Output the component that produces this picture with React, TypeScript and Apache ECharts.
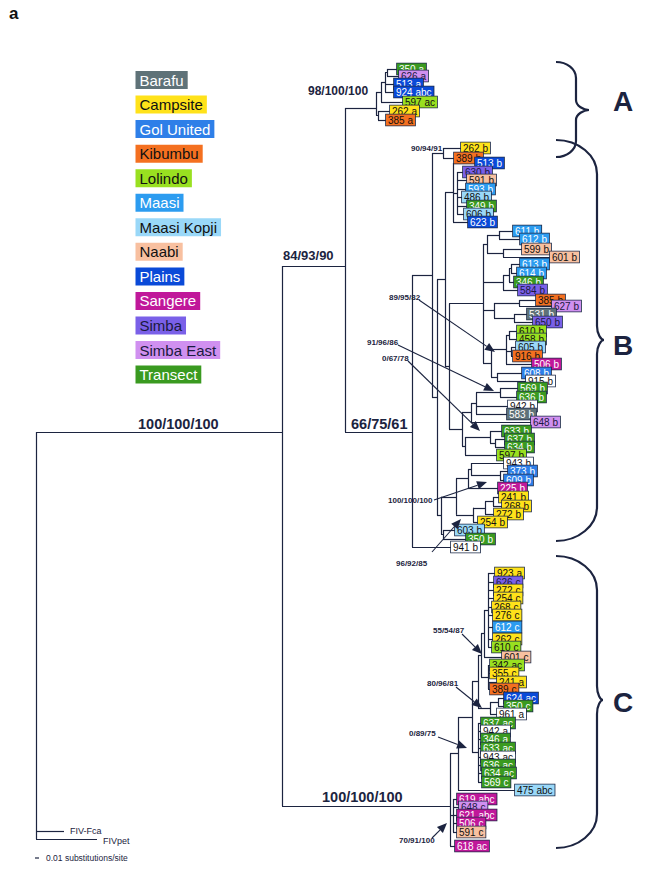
import React, { useEffect, useRef } from "react";
import * as echarts from "echarts";

// ---------- DATA ----------
const POPULATIONS = ["Barafu", "Campsite", "Gol United", "Kibumbu", "Lolindo", "Maasi", "Maasi Kopji", "Naabi", "Plains", "Sangere", "Simba", "Simba East", "Transect"];
const POP_COLORS = ["#5f7278", "#ffe21a", "#2e7fe8", "#f47020", "#99e020", "#2c9cf0", "#9ad8f8", "#f8c0a0", "#0a4ad8", "#c0189a", "#7a60e8", "#d090f0", "#3a9a20"];
const POP_TEXT = ["#ffffff", "#111111", "#ffffff", "#111111", "#111111", "#ffffff", "#111111", "#111111", "#ffffff", "#ffffff", "#1a1a40", "#1a1a40", "#ffffff"];

// leaves: [label, population index (-1 = none), tip position, row position]
const LEAVES_A: [string, number, number, number][] = [
  ["350 a", 12, 397, 69], ["626 a", 11, 399, 76], ["513 a", 8, 394, 84], ["924 abc", 8, 394, 92],
  ["597 ac", 4, 403, 102], ["262 a", 1, 390, 111], ["385 a", 3, 386, 120],
];
const LEAVES_B: [string, number, number, number][] = [
  ["262 b", 1, 461, 148], ["389 b", 3, 454, 158], ["513 b", 8, 475, 163], ["630 b", 10, 463, 172],
  ["591 b", 7, 467, 180], ["593 b", 5, 466, 189], ["486 b", 6, 462, 197], ["349 b", 12, 467, 206],
  ["606 b", 6, 464, 214], ["623 b", 8, 468, 222],
  ["611 b", 5, 513, 231], ["612 b", 5, 520, 239], ["599 b", 7, 522, 249], ["601 b", 7, 550, 257],
  ["613 b", 5, 520, 264], ["614 b", 5, 517, 273], ["346 b", 12, 514, 282], ["584 b", 10, 518, 290],
  ["385 b", 3, 536, 300], ["627 b", 11, 552, 306], ["531 b", 0, 527, 314], ["650 b", 10, 533, 322],
  ["610 b", 4, 517, 331], ["458 b", 4, 517, 339], ["605 b", 6, 516, 347], ["916 b", 3, 513, 356],
  ["506 b", 9, 532, 364], ["608 b", 2, 522, 373], ["915 b", -1, 526, 381],
  ["569 b", 12, 518, 388], ["636 b", 12, 517, 397], ["942 b", -1, 508, 406], ["583 b", 0, 507, 414], ["648 b", 11, 531, 422],
  ["633 b", 12, 502, 431], ["637 b", 12, 505, 439], ["634 b", 12, 505, 447], ["597 b", 4, 497, 455],
  ["943 b", -1, 504, 463], ["373 b", 2, 508, 471], ["609 b", 2, 504, 480], ["225 b", 9, 498, 488],
  ["241 b", 1, 499, 497], ["268 b", 1, 502, 506], ["272 b", 1, 494, 514], ["254 b", 1, 478, 522],
  ["603 b", 6, 455, 530], ["350 b", 12, 466, 539], ["941 b", -1, 451, 547],
];
const LEAVES_C: [string, number, number, number][] = [
  ["923 a", 1, 495, 573], ["626 c", 10, 494, 582], ["272 c", 1, 494, 590], ["254 c", 1, 494, 598],
  ["268 c", 1, 492, 607], ["276 c", 1, 493, 615], ["612 c", 5, 493, 627], ["262 c", 1, 493, 639],
  ["610 c", 4, 492, 647], ["601 c", 7, 502, 657],
  ["342 ac", 4, 490, 665], ["355 c", 1, 490, 673], ["241 a", 1, 497, 682], ["389 c", 3, 490, 689],
  ["624 ac", 8, 504, 698], ["350 c", 12, 504, 706], ["961 a", -1, 497, 714],
  ["637 ac", 12, 481, 723], ["942 a", -1, 481, 731], ["346 a", 12, 481, 739], ["633 ac", 12, 481, 748],
  ["943 ac", -1, 481, 757], ["636 ac", 12, 481, 765], ["634 ac", 12, 482, 773], ["569 c", 12, 482, 782],
  ["475 abc", 6, 515, 790],
  ["619 abc", 9, 457, 799], ["648 c", 11, 459, 807], ["621 abc", 9, 457, 815], ["506 c", 9, 457, 823],
  ["591 c", 7, 457, 832], ["618 ac", 9, 455, 846],
];
const OUTGROUP: [string, number, number][] = [["FIV-Fca", 64, 831], ["FIVpet", 97, 839]];

// topology: internal nodes {x, y?, c}, leaves by label
const CLADE_A = { x: 376, y: 108, c: [
  { x: 381, c: [{ x: 385, c: [{ x: 387, c: ["350 a", "626 a"] }, "513 a", "924 abc"] }, "597 ac"] },
  { x: 378, c: ["262 a", "385 a"] },
] };
const CLADE_B = { x: 412, y: 432, c: [
  { x: 432, c: [
    { x: 443, c: ["262 b", "389 b"] },
    { x: 437, c: [
      { x: 445, c: [
        { x: 453, c: ["513 b", { x: 457, c: ["630 b", "591 b", "593 b", "486 b", "349 b", "606 b"] }, "623 b"] },
        { x: 449, c: [
          { x: 483, c: [
            { x: 487, c: [{ x: 499, c: ["611 b", "612 b"] }, { x: 503, c: ["599 b", "601 b"] }] },
            { x: 503, c: [{ x: 509, c: [{ x: 511, c: ["613 b", "614 b"] }, "346 b"] }, "584 b"] },
            { x: 494, c: [{ x: 519, c: ["385 b", "627 b"] }, { x: 514, c: ["531 b", "650 b"] }] },
            { x: 491, c: [
              { x: 506, c: [{ x: 509, c: ["610 b", "458 b"] }, { x: 511, c: ["605 b", "916 b"] }, "506 b"] },
              { x: 497, c: ["608 b", "915 b"] },
            ] },
          ] },
          { x: 462, c: [
            { x: 471, c: [{ x: 476, c: [{ x: 500, c: ["569 b", "636 b"] }, "942 b", "583 b"] }, "648 b"] },
            { x: 465, c: [{ x: 490, c: ["633 b", { x: 495, c: ["637 b", "634 b"] }] }, "597 b"] },
          ] },
        ] },
      ] },
      { x: 441, c: [
        { x: 456, c: [
          { x: 468, c: [{ x: 471, c: ["943 b", { x: 500, c: ["373 b", "609 b"] }] }, "225 b"] },
          { x: 473, c: [{ x: 485, c: [{ x: 493, c: ["241 b", "268 b"] }, "272 b"] }, "254 b"] },
        ] },
        { x: 443, c: ["603 b", "350 b"] },
      ] },
    ] },
  ] },
  "941 b",
] };
const CLADE_C = { x: 450, y: 806, c: [
  { x: 458, c: [
    { x: 472, c: [
      { x: 478, c: [
        { x: 481, c: [
          { x: 484, c: [{ x: 488, c: ["923 a", "626 c", "272 c", "254 c", "268 c", "276 c", "612 c", "262 c", "610 c"] }, "601 c"] },
          { x: 488, c: ["342 ac", "355 c", "241 a", "389 c"] },
        ] },
        { x: 490, c: [{ x: 498, c: ["624 ac", "350 c"] }, "961 a"] },
      ] },
      { x: 478, c: ["637 ac", "942 a", "346 a", "633 ac", "943 ac", "636 ac", "634 ac", "569 c"] },
    ] },
    "475 abc",
  ] },
  { x: 453, c: ["619 abc", "648 c", "621 abc", "506 c", "591 c"] },
  "618 ac",
] };
const TREE = { x: 36, c: [
  { x: 282, y: 432, c: [{ x: 345, y: 266, c: [CLADE_A, CLADE_B] }, CLADE_C] },
  "FIV-Fca", "FIVpet",
] };

// bootstrap support labels: [text, x, y, fontSize]
const SUPPORT_MAIN: [string, number, number, number][] = [
  ["98/100/100", 308, 91, 12], ["84/93/90", 283, 255, 13], ["100/100/100", 138, 424, 14.5],
  ["66/75/61", 351, 424, 14.5], ["100/100/100", 322, 797, 14.5],
];
// [text, x, y, arrowStartX, arrowStartY, arrowTipX, arrowTipY]
const SUPPORT_SMALL: [string, number, number, number, number, number, number][] = [
  ["89/95/82", 389, 297, 419, 300, 495, 352],
  ["91/96/86", 367, 342, 398, 345, 494, 391],
  ["0/67/78", 382, 358, 408, 361, 480, 431],
  ["100/100/100", 388, 500, 434, 500, 487, 482],
  ["96/92/85", 396, 563, 432, 552, 461, 519],
  ["55/54/87", 433, 630, 462, 634, 482, 654],
  ["80/96/81", 427, 683, 456, 687, 482, 708],
  ["0/89/75", 409, 733, 438, 737, 467, 748],
  ["70/91/100", 399, 840, 432, 838, 447, 823],
];
const CLADE_LETTERS: [string, number][] = [["A", 101], ["B", 345], ["C", 702]];

// ---------- STYLE ----------
const LINE = "#1c2440";
const FONT = '"Liberation Sans", Arial, Helvetica, sans-serif';

function bracePath(xL: number, top: number, bot: number, xs: number, xp: number, yp: number, r: number, rm: number) {
  const k = xL + (xs - xL) * 0.55;
  return `M${xL},${top} C${k},${top} ${xs},${top + r * 0.45} ${xs},${top + r} L${xs},${yp - rm} ` +
    `C${xs},${yp - rm * 0.4} ${xp - (xp - xs) * 0.4},${yp} ${xp},${yp} ` +
    `C${xp - (xp - xs) * 0.4},${yp} ${xs},${yp + rm * 0.4} ${xs},${yp + rm} L${xs},${bot - r} ` +
    `C${xs},${bot - r * 0.45} ${k},${bot} ${xL},${bot}`;
}
echarts.graphic.registerShape("braceA", echarts.graphic.extendPath(bracePath(556, 62, 157, 576, 589, 110, 16, 10), {}));
echarts.graphic.registerShape("braceB", echarts.graphic.extendPath(bracePath(556, 140, 541, 597, 604, 340, 34, 14), {}));
echarts.graphic.registerShape("braceC", echarts.graphic.extendPath(bracePath(556, 556, 848, 597, 603, 700, 34, 14), {}));

const ALL_LEAVES = [...LEAVES_A, ...LEAVES_B, ...LEAVES_C];
const LEAF_MAP: Record<string, [number, number]> = {};
ALL_LEAVES.forEach((l) => { LEAF_MAP[l[0]] = [l[2], l[3]]; });
OUTGROUP.forEach((l) => { LEAF_MAP[l[0]] = [l[1], l[2]]; });

function layout(node: any, segs: number[][][]): number {
  if (typeof node === "string") return LEAF_MAP[node][1];
  const ys = node.c.map((ch: any) => layout(ch, segs));
  node.c.forEach((ch: any, i: number) => {
    const endX = typeof ch === "string" ? LEAF_MAP[ch][0] : ch.x;
    segs.push([[node.x, ys[i]], [endX, ys[i]]]);
  });
  const y0 = Math.min(...ys), y1 = Math.max(...ys);
  segs.push([[node.x, y0], [node.x, y1]]);
  return node.y !== undefined ? node.y : (ys[0] + ys[ys.length - 1]) / 2;
}

function arrow(sx: number, sy: number, tx: number, ty: number) {
  const dx = tx - sx, dy = ty - sy;
  const len = Math.hypot(dx, dy);
  const ux = dx / len, uy = dy / len;
  const L = 10, W = 4.2;
  const bx = tx - ux * L, by = ty - uy * L;
  return [
    { type: "line", shape: { x1: sx, y1: sy, x2: bx, y2: by }, style: { stroke: LINE, lineWidth: 1.1 }, z: 20 },
    { type: "polygon", shape: { points: [[tx, ty], [bx - uy * W, by + ux * W], [bx + uy * W, by - ux * W]] }, style: { fill: LINE }, z: 20 },
  ];
}

function txt(text: string, x: number, y: number, size: number, opts: any = {}) {
  return {
    type: "text", x, y, z: 20,
    style: {
      text, fill: opts.fill || LINE, fontSize: size, fontFamily: FONT, fontWeight: opts.weight || "normal",
      align: opts.align || "left", textAlign: opts.align || "left",
      verticalAlign: "middle", textVerticalAlign: "middle",
    },
  };
}

function buildOption() {
  const segs: number[][][] = [];
  layout(TREE, segs);

  const graphic: any[] = [];
  graphic.push(txt("a", 9, 13, 17, { weight: "bold", fill: "#111" }));
  POPULATIONS.forEach((name, i) => {
    graphic.push({
      type: "text", x: 135.5, y: 71 + i * 24.55, z: 20,
      style: {
        text: name, fill: POP_TEXT[i], backgroundColor: POP_COLORS[i], padding: [1.5, 4, 1.5, 4],
        fontSize: 15, fontFamily: FONT, align: "left", textAlign: "left", verticalAlign: "top", textVerticalAlign: "top",
      },
    });
  });
  SUPPORT_MAIN.forEach(([t, x, y, s]) => graphic.push(txt(t, x, y, s, { weight: "bold" })));
  graphic.push(txt("90/94/91", 411, 148, 8, { weight: "bold" }));
  SUPPORT_SMALL.forEach(([t, x, y, sx, sy, ex, ey]) => {
    graphic.push(txt(t, x, y, 8, { weight: "bold" }));
    graphic.push(...arrow(sx, sy, ex, ey));
  });
  ["braceA", "braceB", "braceC"].forEach((b) => graphic.push({ type: b, z: 20, style: { stroke: LINE, fill: "none", lineWidth: 2.2 } }));
  CLADE_LETTERS.forEach(([t, y]) => graphic.push(txt(t, 623, y, 28, { weight: "bold", align: "center" })));
  graphic.push({ type: "line", z: 20, shape: { x1: 35, y1: 858, x2: 39, y2: 858 }, style: { stroke: LINE, lineWidth: 1.2 } });
  graphic.push(txt("0.01 substitutions/site", 46, 858, 8.5));

  return {
    animation: false,
    backgroundColor: "#ffffff",
    grid: { left: 0, right: 0, top: 0, bottom: 0 },
    xAxis: { type: "value", min: 0, max: 659, show: false },
    yAxis: { type: "value", min: 0, max: 875, inverse: true, show: false },
    series: [
      {
        type: "lines", coordinateSystem: "cartesian2d", polyline: false, silent: true, z: 2,
        lineStyle: { color: LINE, width: 1.2, opacity: 1 },
        data: segs.map((s) => ({ coords: s })),
      },
      {
        type: "custom", coordinateSystem: "cartesian2d", silent: true, clip: false, z: 3,
        data: ALL_LEAVES.map((l) => [l[2], l[3]]),
        renderItem: (params: any, api: any) => {
          const leaf = ALL_LEAVES[params.dataIndex];
          const p = api.coord([api.value(0), api.value(1)]);
          const pop = leaf[1];
          return {
            type: "text", x: p[0], y: p[1],
            style: {
              text: leaf[0], fontSize: 10, fontFamily: FONT,
              fill: pop < 0 ? "#111111" : POP_TEXT[pop],
              backgroundColor: pop < 0 ? "#ffffff" : POP_COLORS[pop],
              borderColor: "#1c2a48", borderWidth: 0.8, padding: [0.5, 2, 0.5, 2],
              align: "left", textAlign: "left", verticalAlign: "middle", textVerticalAlign: "middle",
            },
          };
        },
      },
      {
        type: "custom", coordinateSystem: "cartesian2d", silent: true, clip: false, z: 3,
        data: OUTGROUP.map((l) => [l[1], l[2]]),
        renderItem: (params: any, api: any) => {
          const p = api.coord([api.value(0), api.value(1)]);
          return {
            type: "text", x: p[0] + 6, y: p[1] + (params.dataIndex === 1 ? 2 : 0),
            style: {
              text: OUTGROUP[params.dataIndex][0], fontSize: 9, fontFamily: FONT, fill: LINE,
              align: "left", textAlign: "left", verticalAlign: "middle", textVerticalAlign: "middle",
            },
          };
        },
      },
    ],
    graphic,
  };
}

export default function App() {
  const ref = useRef<HTMLDivElement>(null);
  useEffect(() => {
    if (!ref.current) return;
    const chart = echarts.init(ref.current, null, { renderer: "svg" });
    chart.setOption(buildOption() as any);
    return () => chart.dispose();
  }, []);
  return <div ref={ref} style={{ position: "absolute", left: 0, top: 0, width: 659, height: 875, background: "#fff" }} />;
}
